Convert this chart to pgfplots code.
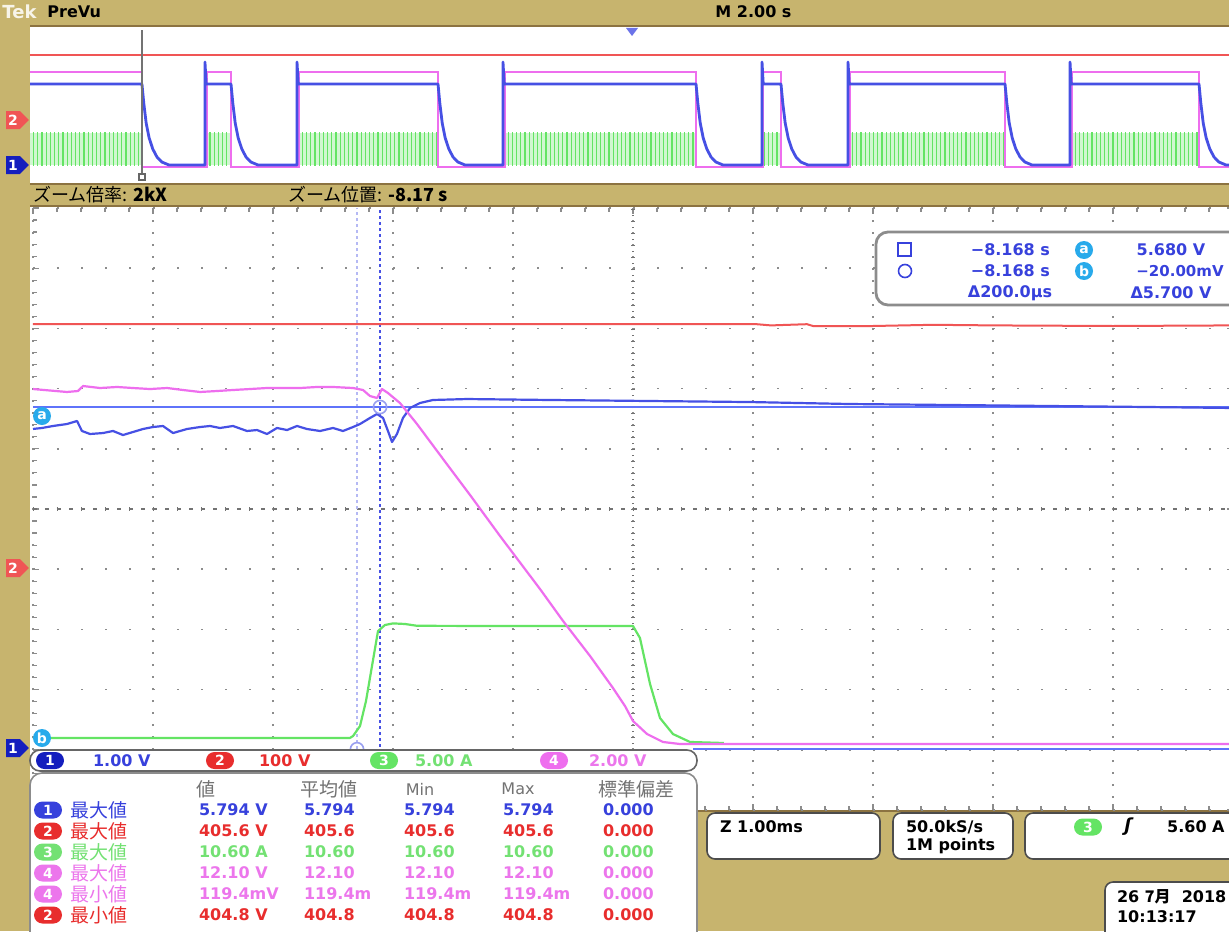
\documentclass[border=0pt]{standalone}
\usepackage{fontspec}
\setmainfont{DejaVu Sans}
\newfontfamily\jp{Noto Sans CJK JP}
\usepackage{pgfplots}
\pgfplotsset{compat=1.18}
\usetikzlibrary{patterns.meta,shapes.symbols,shapes.misc}
\definecolor{khaki}{RGB}{199,180,110}
\definecolor{khakid}{RGB}{140,115,65}
\definecolor{c1}{RGB}{70,80,228}
\definecolor{c1cur}{RGB}{95,115,250}
\definecolor{c2}{RGB}{240,85,85}
\definecolor{c3}{RGB}{100,228,100}
\definecolor{c4}{RGB}{238,110,238}
\definecolor{ccur}{RGB}{40,170,235}
\definecolor{tb}{RGB}{55,65,220}
\definecolor{tr}{RGB}{232,45,45}
\definecolor{tg}{RGB}{115,225,115}
\definecolor{tp}{RGB}{236,118,236}
\definecolor{pb}{RGB}{20,30,190}
\newcommand{\fs}[1]{\fontsize{#1}{#1}\selectfont}
\tikzset{pill/.style={rounded rectangle, fill=#1, text=white, inner sep=0pt, minimum width=14pt, minimum height=8.5pt, font=\fs{7}\bfseries},
 mark1/.style={signal, signal to=east, fill=#1, text=white, inner sep=1pt, minimum width=11pt, minimum height=9pt, font=\fs{7}\bfseries},
 cmark/.style={circle, fill=ccur, text=white, inner sep=0pt, minimum size=9pt, font=\fs{7}\bfseries},
 wbox/.style={fill=white, draw=black!70, line width=0.8pt, rounded corners=4pt}}
\newcommand{\mrow}[9]{%
 \node[pill=#2] at (48,#1) {#3};
 \node[anchor=west, text=#2, font=\jp\fs{9.5}] at (63,#1) {#4};
 \node[anchor=west, text=#2, font=\fs{8}\bfseries] at (192,#1) {#5};
 \node[anchor=west, text=#2, font=\fs{8}\bfseries] at (297,#1) {#6};
 \node[anchor=west, text=#2, font=\fs{8}\bfseries] at (397,#1) {#7};
 \node[anchor=west, text=#2, font=\fs{8}\bfseries] at (496,#1) {#8};
 \node[anchor=west, text=#2, font=\fs{8}\bfseries] at (596,#1) {#9};}
\begin{document}
\begin{tikzpicture}
\clip (0,0) rectangle (614.5pt,-465.5pt);
% ---------- background ----------
\begin{scope}[x=0.5pt,y=-0.5pt]
\fill[khaki] (0,0) rectangle (1229,931);
\fill[white] (30,27) rectangle (1229,183);
\fill[white] (30,207) rectangle (1229,810);
\draw[khakid, line width=0.8pt] (30,26) -- (1229,26);
\draw[khakid, line width=0.8pt] (30,184) -- (1229,184);
\draw[khakid, line width=1pt] (30,206) -- (1229,206);
\draw[khakid, line width=1pt] (30,811) -- (1229,811);
\end{scope}
% ---------- preview (PreVu) window, time in s, M 2.00 s/div ----------
\begin{axis}[at={(15pt,-91.5pt)}, anchor=south west, scale only axis,
  width=599.5pt, height=78pt, xmin=-10.033, xmax=9.95, ymin=0, ymax=156,
  hide axis, clip=true]
% green current bursts
\addplot[draw=none, fill=c3!30, postaction={pattern={Lines[angle=90,distance=2.1pt,line width=0.55pt]}, pattern color=c3}]
  coordinates {(-10.033,18) (-8.167,18) (-8.167,50) (-10.033,50)} -- cycle;
\addplot[draw=none, fill=c3!30, postaction={pattern={Lines[angle=90,distance=2.1pt,line width=0.55pt]}, pattern color=c3}]
  coordinates {(-7.08,18) (-6.683,18) (-6.683,50) (-7.08,50)} -- cycle;
\addplot[draw=none, fill=c3!30, postaction={pattern={Lines[angle=90,distance=2.1pt,line width=0.55pt]}, pattern color=c3}]
  coordinates {(-5.55,18) (-3.233,18) (-3.233,50) (-5.55,50)} -- cycle;
\addplot[draw=none, fill=c3!30, postaction={pattern={Lines[angle=90,distance=2.1pt,line width=0.55pt]}, pattern color=c3}]
  coordinates {(-2.12,18) (1.067,18) (1.067,50) (-2.12,50)} -- cycle;
\addplot[draw=none, fill=c3!30, postaction={pattern={Lines[angle=90,distance=2.1pt,line width=0.55pt]}, pattern color=c3}]
  coordinates {(2.19,18) (2.483,18) (2.483,50) (2.19,50)} -- cycle;
\addplot[draw=none, fill=c3!30, postaction={pattern={Lines[angle=90,distance=2.1pt,line width=0.55pt]}, pattern color=c3}]
  coordinates {(3.63,18) (6.217,18) (6.217,50) (3.63,50)} -- cycle;
\addplot[draw=none, fill=c3!30, postaction={pattern={Lines[angle=90,distance=2.1pt,line width=0.55pt]}, pattern color=c3}]
  coordinates {(7.33,18) (9.45,18) (9.45,50) (7.33,50)} -- cycle;
% ch2 red
\addplot[c2, line width=0.9pt] coordinates {(-10.033,128) (9.95,128)};
% ch4 pink
\addplot[c4, line width=1.4pt] coordinates {
(-10.033,111) (-8.167,111) (-8.167,16) (-7.09,16) (-7.09,111) (-6.683,111) (-6.683,16)
(-5.56,16) (-5.56,111) (-3.233,111) (-3.233,16) (-2.13,16) (-2.13,111) (1.067,111) (1.067,16)
(2.18,16) (2.18,111) (2.483,111) (2.483,16) (3.62,16) (3.62,111) (6.217,111) (6.217,16)
(7.32,16) (7.32,111) (9.45,111) (9.45,16) (9.95,16)};
% ch1 blue
\addplot[c1, line width=1.4pt, line join=round] coordinates {
(-10.033,99) (-8.167,99) (-8.137,80) (-8.097,60) (-8.047,45) (-7.987,34) (-7.917,26) (-7.837,21) (-7.717,18)
(-7.117,18) (-7.117,121) (-7.097,99)
(-6.683,99) (-6.653,80) (-6.613,60) (-6.563,45) (-6.503,34) (-6.433,26) (-6.353,21) (-6.233,18)
(-5.583,18) (-5.583,121) (-5.563,99)
(-3.233,99) (-3.203,80) (-3.163,60) (-3.113,45) (-3.053,34) (-2.983,26) (-2.903,21) (-2.783,18)
(-2.15,18) (-2.15,121) (-2.13,99)
(1.067,99) (1.097,80) (1.137,60) (1.187,45) (1.247,34) (1.317,26) (1.397,21) (1.517,18)
(2.167,18) (2.167,121) (2.187,99)
(2.483,99) (2.513,80) (2.553,60) (2.603,45) (2.663,34) (2.733,26) (2.813,21) (2.933,18)
(3.6,18) (3.6,121) (3.62,99)
(6.217,99) (6.247,80) (6.287,60) (6.337,45) (6.397,34) (6.467,26) (6.547,21) (6.667,18)
(7.3,18) (7.3,121) (7.32,99)
(9.45,99) (9.48,80) (9.52,60) (9.57,45) (9.63,34) (9.70,26) (9.78,21) (9.9,18) (9.95,18)};
% zoom position -8.17 s
\addplot[black!55, line width=1.2pt] coordinates {(-8.167,8) (-8.167,153)};
\end{axis}
% ---------- main (zoom) window: x and y in divisions ----------
\begin{axis}[at={(16.5pt,-405pt)}, anchor=south west, scale only axis,
  width=600pt, height=301pt, xmin=0, xmax=10, ymin=-5, ymax=5,
  xtick={0,...,10}, ytick={-5,...,5}, xticklabels={}, yticklabels={},
  minor x tick num=4, minor y tick num=4,
  tick align=inside, major tick length=3pt, minor tick length=2pt,
  every tick/.style={black!45, line width=0.6pt},
  grid=major,
  x grid style={black!45, line width=0.8pt, dash pattern=on 0.8pt off 5.2pt},
  y grid style={black!45, line width=0.8pt, dash pattern=on 0.8pt off 11.2pt},
  axis line style={draw=none}, clip=true]
% centre cross
\draw[black!55, line width=0.7pt, dash pattern=on 0.7pt off 2.3pt] (axis cs:5,-5) -- (axis cs:5,5);
\draw[black!55, line width=2.2pt, dash pattern=on 0.5pt off 5.5pt] (axis cs:5,-5) -- (axis cs:5,5);
\draw[black!55, line width=0.7pt, dash pattern=on 2pt off 4pt] (axis cs:0,0) -- (axis cs:10,0);
\draw[black!55, line width=2.2pt, dash pattern=on 0.5pt off 11.5pt] (axis cs:0,0) -- (axis cs:10,0);
% vertical cursors (delta 200 us)
\addplot[c1!40, line width=0.9pt, dash pattern=on 1.5pt off 1.5pt] coordinates {(2.7,-3.99) (2.7,5)};
\addplot[c1, line width=1.3pt, dash pattern=on 1.2pt off 1.8pt] coordinates {(2.892,-4.05) (2.892,5)};
% horizontal cursors a and b
\addplot[c1cur, line width=1.2pt] coordinates {(0,1.694) (10,1.694)};
\addplot[c1cur, line width=1.3pt] coordinates {(5.5,-3.987) (10,-3.987)};
% ch2 red
\addplot[c2, line width=1pt] coordinates {(0,3.07) (6.03,3.07) (6.15,3.05) (6.3,3.06) (6.45,3.07) (6.5,3.04) (7.0,3.04) (7.5,3.06) (8,3.05) (9,3.04) (10,3.05)};
% ch3 green
\addplot[c3, line width=1.1pt, line join=round] coordinates {
(0,-3.804) (2.64,-3.804) (2.667,-3.771) (2.725,-3.605) (2.775,-3.189) (2.825,-2.608) (2.875,-2.027)
(2.933,-1.927) (3.0,-1.90) (3.1,-1.91) (3.2,-1.94) (4.0,-1.944) (5.0,-1.944) (5.058,-2.143)
(5.142,-2.907) (5.225,-3.472) (5.333,-3.738) (5.475,-3.870) (5.758,-3.887)};
% ch1 blue
\addplot[c1, line width=1.1pt, line join=round] coordinates {
(0,1.33) (0.075,1.346) (0.167,1.379) (0.283,1.412) (0.367,1.462) (0.408,1.296) (0.475,1.246)
(0.583,1.262) (0.667,1.296) (0.75,1.229) (0.833,1.279) (0.917,1.329) (1.0,1.362) (1.083,1.379)
(1.167,1.262) (1.283,1.329) (1.392,1.362) (1.475,1.379) (1.558,1.346) (1.667,1.379) (1.783,1.296)
(1.867,1.312) (1.95,1.246) (2.033,1.346) (2.117,1.312) (2.2,1.379) (2.283,1.329) (2.392,1.296)
(2.5,1.346) (2.583,1.296) (2.667,1.362) (2.725,1.412) (2.808,1.512) (2.867,1.578) (2.917,1.512)
(2.958,1.296) (2.992,1.113) (3.033,1.246) (3.083,1.512) (3.142,1.678) (3.225,1.761) (3.333,1.811)
(3.617,1.827) (4.308,1.811) (5.142,1.794) (5.975,1.777) (6.808,1.744) (7.642,1.728) (8.475,1.711)
(9.308,1.694) (10,1.678)};
% ch4 pink
\addplot[c4, line width=1.1pt, line join=round] coordinates {
(0,1.993) (0.283,1.944) (0.375,1.96) (0.417,2.043) (0.558,2.01) (0.7,2.027) (0.833,2.01) (0.975,1.993)
(1.117,2.01) (1.25,1.977) (1.392,1.944) (1.533,1.96) (1.667,1.977) (1.808,1.993) (1.95,2.01)
(2.083,2.01) (2.225,2.01) (2.367,2.027) (2.5,2.027) (2.667,2.01) (2.75,1.977) (2.808,1.877)
(2.867,1.844) (2.908,1.993) (2.958,1.927) (3.058,1.761) (3.2,1.412) (3.417,0.831) (3.642,0.233)
(3.892,-0.449) (4.225,-1.329) (4.417,-1.860) (4.642,-2.442) (4.833,-2.973) (4.933,-3.272)
(5.0,-3.522) (5.117,-3.738) (5.25,-3.870) (5.392,-3.904) (5.558,-3.904) (10,-3.904)};
% cursor markers
\addplot[only marks, mark=o, mark size=3.3pt, c1!55, line width=0.8pt] coordinates {(2.892,1.694) (2.7,-3.99)};
\end{axis}
% ---------- overlays ----------
\begin{scope}[x=0.5pt,y=-0.5pt]
% title bar
\node[anchor=west, text=white!85!khaki, font=\fs{9}\bfseries, inner sep=0pt] at (2,12) {Tek};
\node[anchor=west, font=\fs{8}\bfseries, inner sep=0pt] at (47,12) {PreVu};
\node[anchor=west, font=\fs{8}\bfseries, inner sep=0pt] at (715,12) {M 2.00 s};
\fill[c1!80] (626,28) -- (638,28) -- (632,36) -- cycle;
\draw[black!60, line width=0.6pt] (139,174) rectangle (145,180);
\node[anchor=west, font=\jp\fs{9}, inner sep=0pt] at (33,195) {ズーム倍率: \textbf{2kX}};
\node[anchor=west, font=\jp\fs{9}, inner sep=0pt] at (288,195) {ズーム位置: \textbf{-8.17 s}};
% channel markers
\node[mark1=c2] at (13,120) {2};
\node[mark1=pb] at (13,165) {1};
\node[mark1=c2] at (13,568) {2};
\node[mark1=pb] at (13,748) {1};
\node[cmark] at (42,416) {a};
\node[cmark] at (42,738) {b};
% cursor read-out
\draw[fill=white, draw=black!45, line width=1.4pt, rounded corners=6pt] (876,232) rectangle (1250,305);
\draw[tb, line width=0.8pt] (898,243) rectangle (911,256);
\draw[tb, line width=0.8pt] (905,271) circle (6.5);
\node[anchor=east, text=tb, font=\fs{8}\bfseries] at (1057,250) {\symbol{"2212}8.168 s};
\node[anchor=east, text=tb, font=\fs{8}\bfseries] at (1057,271) {\symbol{"2212}8.168 s};
\node[text=tb, font=\fs{8}\bfseries] at (1010,293) {Δ200.0µs};
\node[cmark] at (1084,250) {a};
\node[cmark] at (1084,271) {b};
\node[text=tb, font=\fs{8}\bfseries] at (1171,250) {5.680 V};
\node[anchor=east, text=tb, font=\fs{7.5}\bfseries, inner sep=1pt] at (1226,271) {\symbol{"2212}20.00mV};
\node[text=tb, font=\fs{8}\bfseries] at (1171,293) {Δ5.700 V};
% channel bar
\draw[fill=white, draw=black!60, line width=0.8pt, rounded corners=5pt] (30,750) rectangle (697,771);
\node[pill=pb] at (50,760.5) {1};
\node[anchor=west, text=tb, font=\fs{8}\bfseries] at (86,760.5) {1.00 V};
\node[pill=tr] at (220,760.5) {2};
\node[anchor=west, text=tr, font=\fs{8}\bfseries] at (252,760.5) {100 V};
\node[pill=c3] at (384,760.5) {3};
\node[anchor=west, text=tg, font=\fs{8}\bfseries] at (408,760.5) {5.00 A};
\node[pill=c4] at (554,760.5) {4};
\node[anchor=west, text=tp, font=\fs{8}\bfseries] at (582,760.5) {2.00 V};
% measurement table
\draw[fill=white, draw=black!45, line width=0.8pt, rounded corners=6pt] (30,773) rectangle (697,945);
\node[text=black!55, font=\jp\fs{9.5}] at (206,789) {値};
\node[text=black!55, font=\jp\fs{9.5}] at (329,789) {平均値};
\node[text=black!55, font=\fs{8}] at (420,789) {Min};
\node[text=black!55, font=\fs{8}] at (518,789) {Max};
\node[text=black!55, font=\jp\fs{9.5}] at (636,789) {標準偏差};
\mrow{810}{tb}{1}{最大値}{5.794 V}{5.794}{5.794}{5.794}{0.000}
\mrow{831}{tr}{2}{最大値}{405.6 V}{405.6}{405.6}{405.6}{0.000}
\mrow{852}{tg}{3}{最大値}{10.60 A}{10.60}{10.60}{10.60}{0.000}
\mrow{873}{tp}{4}{最大値}{12.10 V}{12.10}{12.10}{12.10}{0.000}
\mrow{894}{tp}{4}{最小値}{119.4mV}{119.4m}{119.4m}{119.4m}{0.000}
\mrow{915}{tr}{2}{最小値}{404.8 V}{404.8}{404.8}{404.8}{0.000}
% lower right boxes
\draw[wbox] (707,813) rectangle (880,859);
\node[anchor=west, font=\fs{8}\bfseries] at (713,827) {Z 1.00ms};
\draw[wbox] (893,813) rectangle (1013,859);
\node[anchor=west, font=\fs{8}\bfseries] at (899,827) {50.0kS/s};
\node[anchor=west, font=\fs{8}\bfseries] at (899,846) {1M points};
\draw[wbox] (1025,813) rectangle (1250,859);
\node[pill=c3] at (1088,827) {3};
\node[font=\fs{9}\bfseries\itshape] at (1128,827) {ʃ};
\node[anchor=east, font=\fs{8}\bfseries, inner sep=1pt] at (1227,827) {5.60 A};
\draw[wbox] (1105,882) rectangle (1250,945);
\node[anchor=west, font=\fs{8}\bfseries] at (1110,897) {26 {\jp 7月}\ \ 2018};
\node[anchor=west, font=\fs{8}\bfseries] at (1110,917) {10:13:17};
\end{scope}
\end{tikzpicture}
\end{document}
